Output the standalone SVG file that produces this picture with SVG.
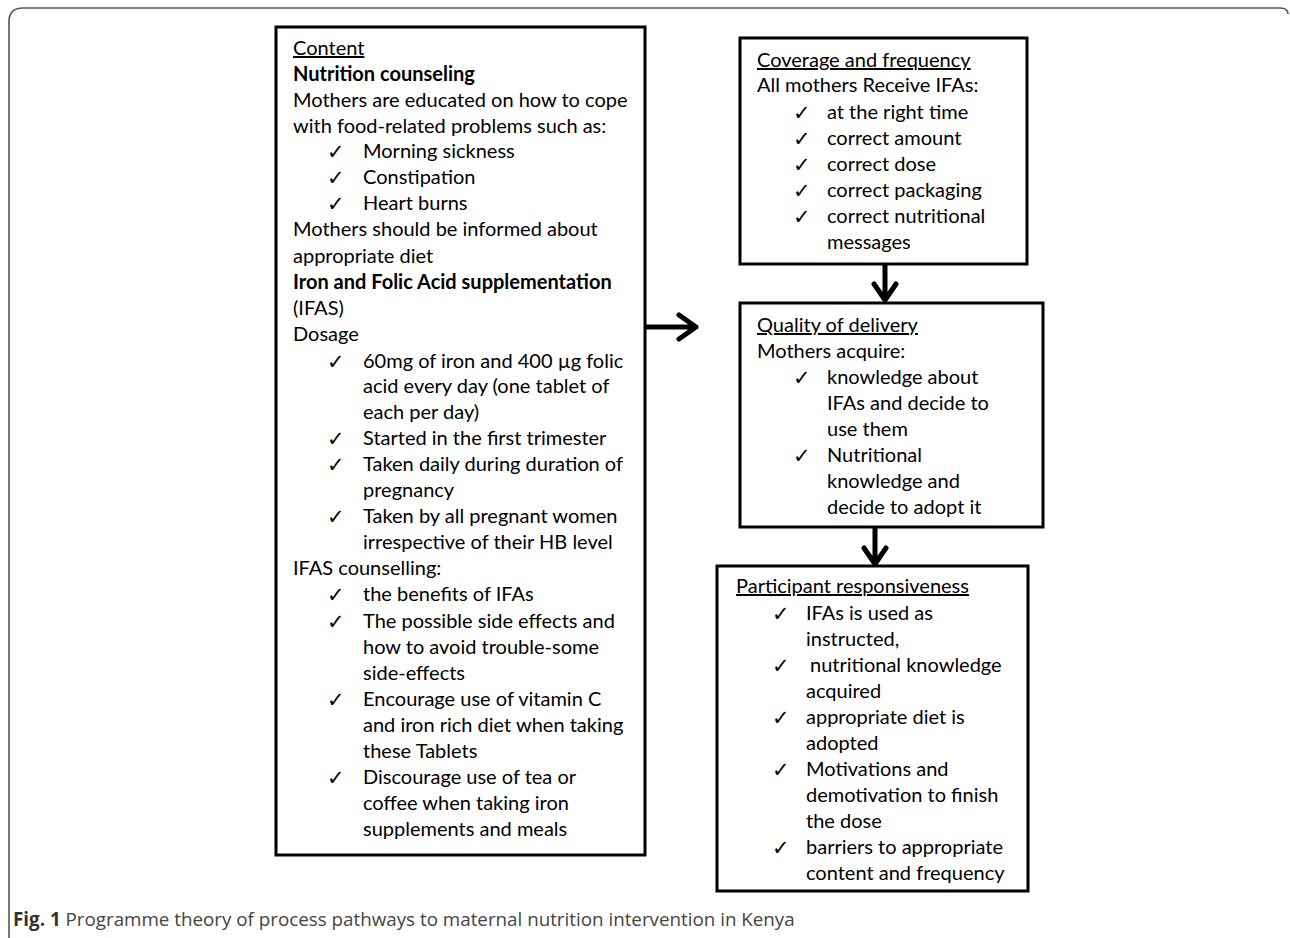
<svg xmlns="http://www.w3.org/2000/svg" width="1290" height="938" viewBox="0 0 1290 938">
<style>
.frame{fill:none;stroke:#555;stroke-width:1.6}
.box{fill:#fff;stroke:#000;stroke-width:3}
.t{font-family:Lato,"Liberation Sans",sans-serif;font-size:20px;fill:#000}
.b{font-weight:bold}
.u{text-decoration:underline}
.ck{font-family:"DejaVu Sans",sans-serif;font-size:21px;fill:#000}
.conn{fill:none;stroke:#000;stroke-width:5;stroke-linecap:round;stroke-linejoin:round}
.cap{font-family:"Open Sans","Liberation Sans",sans-serif;font-size:18.8px;fill:#444}
</style>
<rect width="1290" height="938" fill="#fff"/>
<path class="frame" d="M9,960 L9,22 Q9,8 23,8 L1280,8 Q1288,8 1288,14"/>
<g id="connectors">
<path class="conn" d="M645,327 L696,327 M679,315 L696,327 L679,339"/>
<path class="conn" d="M885,264 L885,300 M874,284 L885,300 L896,284"/>
<path class="conn" d="M875,527 L875,564 M864,548 L875,564 L886,548"/>
</g>
<g id="content">
<rect class="box" x="276" y="27" width="369" height="828"/>
<text class="t u" x="293" y="55">Content</text>
<text class="t b" x="293" y="81">Nutrition counseling</text>
<text class="t" x="293" y="107">Mothers are educated on how to cope</text>
<text class="t" x="293" y="133">with food-related problems such as:</text>
<text class="ck" x="327" y="159">✓</text><text class="t" x="363" y="158">Morning sickness</text>
<text class="ck" x="327" y="185">✓</text><text class="t" x="363" y="184">Constipation</text>
<text class="ck" x="327" y="211">✓</text><text class="t" x="363" y="210">Heart burns</text>
<text class="t" x="293" y="236">Mothers should be informed about</text>
<text class="t" x="293" y="263">appropriate diet</text>
<text class="t b" x="293" y="289">Iron and Folic Acid supplementation</text>
<text class="t" x="293" y="315">(IFAS)</text>
<text class="t" x="293" y="341">Dosage</text>
<text class="ck" x="327" y="369">✓</text><text class="t" x="363" y="368">60mg of iron and 400 µg folic</text>
<text class="t" x="363" y="393">acid every day (one tablet of</text>
<text class="t" x="363" y="419">each per day)</text>
<text class="ck" x="327" y="446">✓</text><text class="t" x="363" y="445">Started in the first trimester</text>
<text class="ck" x="327" y="472">✓</text><text class="t" x="363" y="471">Taken daily during duration of</text>
<text class="t" x="363" y="497">pregnancy</text>
<text class="ck" x="327" y="524">✓</text><text class="t" x="363" y="523">Taken by all pregnant women</text>
<text class="t" x="363" y="549">irrespective of their HB level</text>
<text class="t" x="293" y="575">IFAS counselling:</text>
<text class="ck" x="327" y="602">✓</text><text class="t" x="363" y="601">the benefits of IFAs</text>
<text class="ck" x="327" y="629">✓</text><text class="t" x="363" y="628">The possible side effects and</text>
<text class="t" x="363" y="654">how to avoid trouble-some</text>
<text class="t" x="363" y="680">side-effects</text>
<text class="ck" x="327" y="707">✓</text><text class="t" x="363" y="706">Encourage use of vitamin C</text>
<text class="t" x="363" y="732">and iron rich diet when taking</text>
<text class="t" x="363" y="758">these Tablets</text>
<text class="ck" x="327" y="785">✓</text><text class="t" x="363" y="784">Discourage use of tea or</text>
<text class="t" x="363" y="810">coffee when taking iron</text>
<text class="t" x="363" y="836">supplements and meals</text>
</g>
<g id="coverage">
<rect class="box" x="740" y="38" width="287" height="226"/>
<text class="t u" x="757" y="67">Coverage and frequency</text>
<text class="t" x="757" y="92">All mothers Receive IFAs:</text>
<text class="ck" x="793" y="120">✓</text><text class="t" x="827" y="119">at the right time</text>
<text class="ck" x="793" y="146">✓</text><text class="t" x="827" y="145">correct amount</text>
<text class="ck" x="793" y="172">✓</text><text class="t" x="827" y="171">correct dose</text>
<text class="ck" x="793" y="198">✓</text><text class="t" x="827" y="197">correct packaging</text>
<text class="ck" x="793" y="224">✓</text><text class="t" x="827" y="223">correct nutritional</text>
<text class="t" x="827" y="249">messages</text>
</g>
<g id="quality">
<rect class="box" x="740" y="303" width="303" height="224"/>
<text class="t u" x="757" y="332">Quality of delivery</text>
<text class="t" x="757" y="358">Mothers acquire:</text>
<text class="ck" x="793" y="385">✓</text><text class="t" x="827" y="384">knowledge about</text>
<text class="t" x="827" y="410">IFAs and decide to</text>
<text class="t" x="827" y="436">use them</text>
<text class="ck" x="793" y="463">✓</text><text class="t" x="827" y="462">Nutritional</text>
<text class="t" x="827" y="488">knowledge and</text>
<text class="t" x="827" y="514">decide to adopt it</text>
</g>
<g id="responsiveness">
<rect class="box" x="717" y="566" width="311" height="325"/>
<text class="t u" x="736" y="593">Participant responsiveness</text>
<text class="ck" x="772" y="621">✓</text><text class="t" x="806" y="620">IFAs is used as</text>
<text class="t" x="806" y="646">instructed,</text>
<text class="ck" x="772" y="673">✓</text><text class="t" x="810" y="672">nutritional knowledge</text>
<text class="t" x="806" y="698">acquired</text>
<text class="ck" x="772" y="725">✓</text><text class="t" x="806" y="724">appropriate diet is</text>
<text class="t" x="806" y="750">adopted</text>
<text class="ck" x="772" y="777">✓</text><text class="t" x="806" y="776">Motivations and</text>
<text class="t" x="806" y="802">demotivation to finish</text>
<text class="t" x="806" y="828">the dose</text>
<text class="ck" x="772" y="855">✓</text><text class="t" x="806" y="854">barriers to appropriate</text>
<text class="t" x="806" y="880">content and frequency</text>
</g>
<text class="cap" x="13" y="926"><tspan font-weight="bold" fill="#333">Fig. 1</tspan> Programme theory of process pathways to maternal nutrition intervention in Kenya</text>
</svg>
